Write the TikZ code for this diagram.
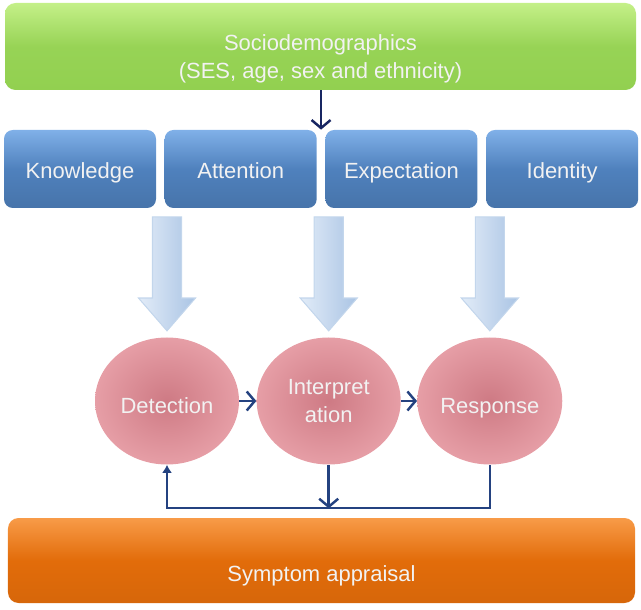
\documentclass[tikz,border=0pt]{standalone}
\usepackage{fontspec}
\setmainfont{Liberation Sans}
\usetikzlibrary{arrows.meta, positioning, shapes.geometric, shapes.arrows, calc}

\definecolor{greenface}{RGB}{146,208,80}
\definecolor{greentop}{RGB}{196,240,136}
\definecolor{blueface}{RGB}{79,129,189}
\definecolor{bluetop}{RGB}{128,176,232}
\definecolor{orangeface}{RGB}{226,108,10}
\definecolor{orangetop}{RGB}{248,155,72}
\definecolor{pinkin}{RGB}{206,122,132}
\definecolor{pinkout}{RGB}{230,158,166}
\definecolor{paleblue}{RGB}{226,236,248}
\definecolor{midblue}{RGB}{170,196,228}
\definecolor{navy}{RGB}{36,66,128}
\definecolor{darknavy}{RGB}{24,38,98}

\begin{document}
\begin{tikzpicture}[
  node distance=0.16cm,
  every node/.style={text=white!95!black, font=\fontsize{12.5}{16}\selectfont, align=center},
  oneline/.style={text height=#1, text depth=0.5ex},
  oneline/.default=13.7pt,
  topbar/.style={rectangle, rounded corners=6pt, minimum width=12.62cm, minimum height=1.74cm,
    top color=greentop, bottom color=greenface, middle color=greenface!90!greentop,
    text height=36pt, text depth=0pt},
  factor/.style={rectangle, rounded corners=5pt, minimum width=3.04cm, minimum height=1.56cm,
    top color=bluetop, bottom color=blueface!90!black, middle color=blueface, oneline},
  stage/.style={ellipse, minimum width=2.88cm, minimum height=2.54cm, inner sep=1pt,
    inner color=pinkin, outer color=pinkout},
  bottombar/.style={rectangle, rounded corners=6pt, minimum width=12.54cm, minimum height=1.7cm,
    top color=orangetop, bottom color=orangeface!95!black, middle color=orangeface, oneline=27pt},
  bigarrow/.style={single arrow, rotate=-90, draw=midblue!70!white, line width=0.6pt,
    inner sep=0.28cm, minimum height=2.28cm, single arrow head extend=0.28cm,
    single arrow tip angle=82, left color=paleblue, right color=midblue},
  arrow/.style={-{Straight Barb[length=1.6mm, width=3.8mm]}, line width=1.4pt, navy},
  backarrow/.style={-{Latex[length=1.6mm, width=2mm]}, line width=1.2pt, navy}
]

\useasboundingbox (0,0) rectangle (12.82,12.18);

% Nodes (top to bottom)
\node[topbar] (socio) at (6.41,11.25) {Sociodemographics\\(SES, age, sex and ethnicity)};

\node[factor] (know) at (1.6,8.80) {Knowledge};
\node[factor, right=of know] (att) {Attention};
\node[factor, right=of att] (expect) {Expectation};
\node[factor, right=of expect] (ident) {Identity};

\node[stage, oneline=17pt] (detect) at (3.34,4.16) {Detection};
\node[stage, right=0.34cm of detect] (interp) {Interpret\\ation};
\node[stage, oneline=17pt, right=0.32cm of interp] (resp) {Response};

\node[bottombar] (symptom) at (6.43,0.97) {Symptom appraisal};

% Hollow arrows into the stages
\foreach \s in {detect, interp, resp}
  \node[bigarrow, anchor=tip] (big\s) at ($(\s.north)+(0,0.11)$) {};

% Connectors
\coordinate (gap) at ($(att.north east)!0.5!(expect.north west)$);
\draw[arrow, darknavy] (socio.south -| gap) -- (gap);

\draw[arrow] (detect) -- (interp);
\draw[arrow] (interp) -- (resp);

\coordinate (fb) at ($(resp.south)+(0,-0.87)$);
\draw[backarrow] (resp.south) -- (fb) -| (detect.south);
\draw[arrow] (interp.south) -- (interp.south |- fb);

\end{tikzpicture}
\end{document}
